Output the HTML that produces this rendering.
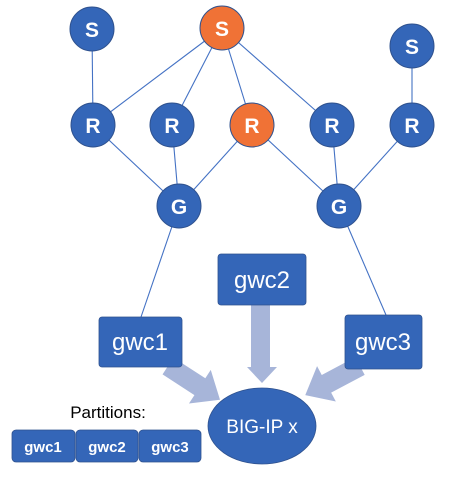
<!DOCTYPE html>
<html><head><style>body{margin:0;background:#fff}svg{display:block}</style></head><body>
<svg width="463" height="485" viewBox="0 0 463 485" xmlns="http://www.w3.org/2000/svg" font-family="Liberation Sans, sans-serif">
<g stroke="#4472c4" stroke-width="1.1">
<line x1="92" y1="29" x2="93" y2="125"/>
<line x1="222" y1="28" x2="93" y2="125"/>
<line x1="222" y1="28" x2="172" y2="125"/>
<line x1="222" y1="28" x2="252" y2="125"/>
<line x1="222" y1="28" x2="332" y2="125"/>
<line x1="412" y1="46" x2="412" y2="125"/>
<line x1="93" y1="125" x2="179" y2="206"/>
<line x1="172" y1="125" x2="179" y2="206"/>
<line x1="252" y1="125" x2="179" y2="206"/>
<line x1="252" y1="125" x2="339" y2="206"/>
<line x1="332" y1="125" x2="339" y2="206"/>
<line x1="412" y1="125" x2="339" y2="206"/>
<line x1="179" y1="206" x2="141" y2="317"/>
<line x1="339" y1="206" x2="386" y2="315"/>
</g>
<g stroke="#2f528f" stroke-width="1">
<circle cx="92" cy="29" r="22" fill="#3466b8"/>
<circle cx="222" cy="28" r="22" fill="#f07236"/>
<circle cx="412" cy="46" r="22" fill="#3466b8"/>
<circle cx="93" cy="125" r="22" fill="#3466b8"/>
<circle cx="172" cy="125" r="22" fill="#3466b8"/>
<circle cx="252" cy="125" r="22" fill="#f07236"/>
<circle cx="332" cy="125" r="22" fill="#3466b8"/>
<circle cx="412" cy="125" r="22" fill="#3466b8"/>
<circle cx="179" cy="206" r="22" fill="#3466b8"/>
<circle cx="339" cy="206" r="22" fill="#3466b8"/>
</g>
<g font-size="21" font-weight="bold" fill="#fff" text-anchor="middle">
<text x="92" y="37">S</text><text x="222" y="36">S</text><text x="412" y="54">S</text>
<text x="93" y="133">R</text><text x="172" y="133">R</text><text x="252" y="133">R</text><text x="332" y="133">R</text><text x="412" y="133">R</text>
<text x="179" y="214">G</text><text x="339" y="214">G</text>
</g>
<g fill="#a7b5d9">
<polygon points="251,305 270,305 270,367 277,367 262,383 247,367 251,367"/>
<polygon points="0,-10 38,-10 38,-20 62,0 38,20 38,10 0,10" transform="translate(168,366) rotate(33)"/>
<polygon points="0,-10 38,-10 38,-20 62,0 38,20 38,10 0,10" transform="translate(360,366) rotate(152)"/>
</g>
<g fill="#3466b8" stroke="#2f528f" stroke-width="0.8">
<rect x="218" y="254" width="88" height="51" rx="3"/>
<rect x="99" y="317" width="83" height="50" rx="3"/>
<rect x="345" y="315" width="77" height="54" rx="3"/>
<ellipse cx="262" cy="426" rx="54" ry="38"/>
<rect x="12" y="430" width="63" height="32" rx="4"/>
<rect x="76" y="430" width="62" height="32" rx="4"/>
<rect x="139" y="430" width="62" height="32" rx="4"/>
</g>
<g fill="#fff" text-anchor="middle">
<text x="262" y="288" font-size="24">gwc2</text>
<text x="140" y="350" font-size="24">gwc1</text>
<text x="383" y="350" font-size="24">gwc3</text>
<text x="262" y="433" font-size="19">BIG-IP x</text>
<g font-size="15" font-weight="bold"><text x="43" y="452">gwc1</text>
<text x="107" y="452">gwc2</text>
<text x="170" y="452">gwc3</text></g>
</g>
<text x="108" y="418" font-size="17" text-anchor="middle" fill="#000">Partitions:</text>
</svg>
</body></html>
